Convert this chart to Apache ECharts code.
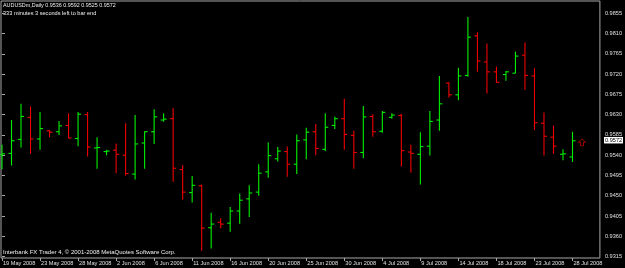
<!DOCTYPE html>
<html>
<head>
<meta charset="utf-8">
<script src="https://cdn.jsdelivr.net/npm/echarts@6/dist/echarts.min.js"></script>
<style>
html,body{margin:0;padding:0;background:#000;}
#c{width:625px;height:268px;}
</style>
</head>
<body>
<div id="c"></div>
<script>
const dates = ['19 May 2008','20 May 2008','21 May 2008','22 May 2008','23 May 2008','25 May 2008','26 May 2008','27 May 2008','28 May 2008','29 May 2008','30 May 2008',
'1 Jun 2008','2 Jun 2008','3 Jun 2008','4 Jun 2008','5 Jun 2008','6 Jun 2008','8 Jun 2008','9 Jun 2008','10 Jun 2008','11 Jun 2008','12 Jun 2008','13 Jun 2008','15 Jun 2008','16 Jun 2008','17 Jun 2008','18 Jun 2008','19 Jun 2008','20 Jun 2008','22 Jun 2008','23 Jun 2008','24 Jun 2008','25 Jun 2008','26 Jun 2008','27 Jun 2008','29 Jun 2008','30 Jun 2008',
'1 Jul 2008','2 Jul 2008','3 Jul 2008','4 Jul 2008','6 Jul 2008','7 Jul 2008','8 Jul 2008','9 Jul 2008','10 Jul 2008','11 Jul 2008','13 Jul 2008','14 Jul 2008','15 Jul 2008','16 Jul 2008','17 Jul 2008','18 Jul 2008','20 Jul 2008','21 Jul 2008','22 Jul 2008','23 Jul 2008','24 Jul 2008','25 Jul 2008','27 Jul 2008','28 Jul 2008'];

const opens  = [0.9541,0.9544,0.9575,0.9624,0.9576,0.9594,0.9592,0.9606,0.9577,0.9630,0.9556,0.9548,0.9551,0.9540,0.9498,0.9567,0.9592,0.9618,0.9621,0.9508,0.9457,0.9472,0.9379,0.9391,0.9389,0.9416,0.9443,0.9458,0.9503,0.9532,0.9548,0.9520,0.9574,0.9592,0.9553,0.9606,0.9621,0.9584,0.9546,0.9626,0.9593,0.9624,0.9628,0.9547,0.9542,0.9560,0.9618,0.9700,0.9674,0.9717,0.9805,0.9747,0.9725,0.9719,0.9722,0.9762,0.9716,0.9611,0.9580,0.9542,0.9536];
const highs  = [0.9563,0.9618,0.9654,0.9648,0.9636,0.9596,0.9616,0.9633,0.9636,0.9636,0.9580,0.9552,0.9566,0.9611,0.9629,0.9593,0.9642,0.9633,0.9645,0.9518,0.9494,0.9475,0.9412,0.9400,0.9425,0.9455,0.9473,0.9520,0.9568,0.9558,0.9559,0.9586,0.9601,0.9609,0.9633,0.9626,0.9665,0.9594,0.9649,0.9631,0.9638,0.9633,0.9632,0.9563,0.9591,0.9638,0.9716,0.9702,0.9734,0.9847,0.9813,0.9788,0.9737,0.9727,0.9770,0.9790,0.9733,0.9635,0.9606,0.9553,0.9592];
const lows   = [0.9509,0.9517,0.9557,0.9543,0.9552,0.9580,0.9585,0.9577,0.9560,0.9537,0.9510,0.9540,0.9500,0.9495,0.9486,0.9510,0.9565,0.9614,0.9481,0.9441,0.9435,0.9327,0.9333,0.9378,0.9370,0.9388,0.9403,0.9450,0.9490,0.9526,0.9492,0.9498,0.9531,0.9540,0.9549,0.9598,0.9552,0.9510,0.9533,0.9581,0.9590,0.9621,0.9515,0.9501,0.9475,0.9539,0.9594,0.9668,0.9662,0.9714,0.9725,0.9677,0.9701,0.9705,0.9722,0.9685,0.9596,0.9539,0.9543,0.9529,0.9525];
const closes = [0.9543,0.9572,0.9626,0.9576,0.9599,0.9591,0.9605,0.9578,0.9631,0.9558,0.9557,0.9549,0.9542,0.9499,0.9565,0.9592,0.9625,0.9620,0.9511,0.9458,0.9473,0.9378,0.9387,0.9387,0.9416,0.9440,0.9456,0.9500,0.9539,0.9549,0.9520,0.9572,0.9591,0.9555,0.9602,0.9621,0.9586,0.9546,0.9625,0.9592,0.9635,0.9629,0.9550,0.9544,0.9559,0.9615,0.9654,0.9674,0.9716,0.9802,0.9749,0.9725,0.9702,0.9725,0.9760,0.9717,0.9612,0.9582,0.9560,0.9543,0.9572];

const priceTicks = [0.9315,0.9360,0.9405,0.9450,0.9495,0.9540,0.9585,0.9630,0.9675,0.9720,0.9765,0.9810,0.9855];
const symbolName = 'AUDUSDm,Daily';
const timeLeft = '333 minutes 3 seconds left to bar end';
const copyright = 'Interbank FX Trader 4, \u00a9 2001-2008 MetaQuotes Software Corp.';

const UP = '#00f000', DOWN = '#f00000';
const n = closes.length;
const ohlc = opens.map((o, i) => [i, o, highs[i], lows[i], closes[i]]);
const dateTicks = dates.map((d, i) => i).filter(i => i % 4 === 0);
const last = n - 1;

const chart = echarts.init(document.getElementById('c'), null, {renderer: 'canvas'});

function renderItem(params, api) {
  const i = api.value(0), o = api.value(1), h = api.value(2), l = api.value(3), c = api.value(4);
  const pH = api.coord([i, h]), pL = api.coord([i, l]), pO = api.coord([i, o]), pC = api.coord([i, c]);
  const col = c >= o ? UP : DOWN;
  const t = 3;
  const st = {stroke: col, lineWidth: 1.1};
  return {type: 'group', children: [
    {type: 'line', shape: {x1: pH[0], y1: pH[1], x2: pL[0], y2: pL[1]}, style: st},
    {type: 'line', shape: {x1: pO[0] - t, y1: pO[1], x2: pO[0], y2: pO[1]}, style: st},
    {type: 'line', shape: {x1: pC[0], y1: pC[1], x2: pC[0] + t, y2: pC[1]}, style: st}
  ]};
}

const FONT = 'Liberation Sans';
const TXT = '#f0f0f0';

chart.setOption({
  backgroundColor: '#000',
  animation: false,
  grid: {left: 1, top: 1, width: 602, height: 257, show: true, borderColor: '#a8a8a8', borderWidth: 1, backgroundColor: '#000'},
  xAxis: {
    type: 'value', min: -0.1046, max: 62.88,
    axisLine: {show: false},
    splitLine: {show: false},
    axisTick: {show: true, length: 3, lineStyle: {color: '#a8a8a8'}, customValues: dateTicks},
    axisLabel: {
      customValues: dateTicks, color: '#e0e0e0', fontFamily: FONT, fontSize: 5.6, margin: 2, align: 'left', padding: [0, 0, 0, 1],
      formatter: v => dates[Math.round(v)] || ''
    }
  },
  yAxis: {
    type: 'value', position: 'right', min: 0.93117, max: 0.98823, scale: true,
    axisLine: {show: false},
    splitLine: {show: false},
    axisTick: {show: true, length: 3, lineStyle: {color: '#a8a8a8'}, customValues: priceTicks},
    axisLabel: {customValues: priceTicks, color: '#e0e0e0', fontFamily: FONT, fontSize: 5.6, margin: 5, formatter: v => v.toFixed(4)}
  },
  series: [
    {
      type: 'custom', renderItem: renderItem, data: ohlc, clip: false,
      encode: {x: 0, y: [2, 3]}
    },
    {
      type: 'scatter', data: [[n, closes[last]]], clip: false,
      symbol: 'path://M3.5,0 L7,3.5 L5,3.5 L5,7 L2,7 L2,3.5 L0,3.5 Z',
      symbolSize: [7, 7], symbolOffset: [0, 1.5],
      itemStyle: {color: 'rgba(0,0,0,0)', borderColor: '#c00000', borderWidth: 1}
    }
  ]
});

// current price box on the price scale, placed through the y axis scale
const py = chart.convertToPixel({gridIndex: 0}, [0, closes[last]])[1];
chart.setOption({
  graphic: [
    {id: 'hdr1', type: 'text', x: 3, y: 5.5, style: {text: symbolName + ' ' + [opens[last], highs[last], lows[last], closes[last]].map(v => v.toFixed(4)).join(' '), fill: TXT, font: '5.4px ' + FONT, verticalAlign: 'middle'}},
    {id: 'hdr2', type: 'text', x: 3, y: 13, style: {text: timeLeft, fill: TXT, font: '5.6px ' + FONT, verticalAlign: 'middle'}},
    {id: 'copy', type: 'text', x: 3, y: 252.7, style: {text: copyright, fill: TXT, font: '6px ' + FONT, verticalAlign: 'middle'}},
    {id: 'pbox', type: 'rect', z: 100, shape: {x: 604, y: py - 3.8, width: 19, height: 6.5}, style: {fill: '#ffffff'}},
    {id: 'ptxt', type: 'text', z: 101, x: 605, y: py - 0.5, style: {text: closes[last].toFixed(4), fill: '#000', font: '5.6px ' + FONT, verticalAlign: 'middle'}}
  ]
});
</script>
</body>
</html>
